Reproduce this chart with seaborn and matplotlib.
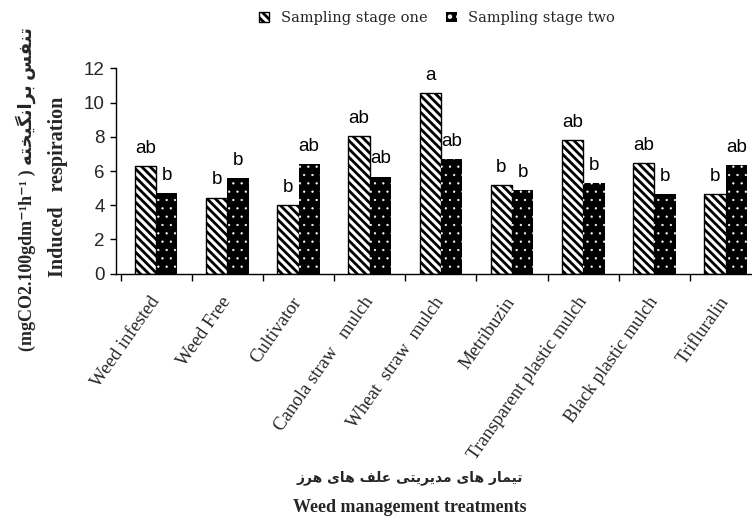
import numpy as np
import pandas as pd
import matplotlib
matplotlib.use("Agg")
import matplotlib.pyplot as plt
from matplotlib.ticker import FixedLocator
import seaborn as sns

# ---- data -------------------------------------------------------------
treatments = [
    "Weed infested", "Weed Free", "Cultivator", "Canola straw   mulch",
    "Wheat  straw  mulch", "Metribuzin", "Transparent plastic mulch",
    "Black plastic mulch", "Trifluralin",
]
stage_one = [6.3, 4.45, 4.0, 8.05, 10.55, 5.2, 7.8, 6.45, 4.65]
stage_two = [4.72, 5.57, 6.4, 5.67, 6.68, 4.9, 5.28, 4.66, 6.33]
letters_one = ["ab", "b", "b", "ab", "a", "b", "ab", "ab", "b"]
letters_two = ["b", "b", "ab", "ab", "ab", "b", "b", "b", "ab"]
series_names = ["Sampling stage one", "Sampling stage two"]
y_ticks = [0, 2, 4, 6, 8, 10, 12]


# ---- minimal Persian shaping (presentation forms, visual order) ------
FORMS = {
    "ا": ("\uFE8D", "\uFE8E", None, None),
    "ب": ("\uFE8F", "\uFE90", "\uFE91", "\uFE92"),
    "ت": ("\uFE95", "\uFE96", "\uFE97", "\uFE98"),
    "خ": ("\uFEA5", "\uFEA6", "\uFEA7", "\uFEA8"),
    "د": ("\uFEA9", "\uFEAA", None, None),
    "ر": ("\uFEAD", "\uFEAE", None, None),
    "ز": ("\uFEAF", "\uFEB0", None, None),
    "س": ("\uFEB1", "\uFEB2", "\uFEB3", "\uFEB4"),
    "ع": ("\uFEC9", "\uFECA", "\uFECB", "\uFECC"),
    "ف": ("\uFED1", "\uFED2", "\uFED3", "\uFED4"),
    "ل": ("\uFEDD", "\uFEDE", "\uFEDF", "\uFEE0"),
    "م": ("\uFEE1", "\uFEE2", "\uFEE3", "\uFEE4"),
    "ن": ("\uFEE5", "\uFEE6", "\uFEE7", "\uFEE8"),
    "ه": ("\uFEE9", "\uFEEA", "\uFEEB", "\uFEEC"),
    "گ": ("\uFB92", "\uFB93", "\uFB94", "\uFB95"),
    "ی": ("\uFBFC", "\uFBFD", "\uFBFE", "\uFBFF"),
}


def shape_persian(text):
    out = []
    for i, ch in enumerate(text):
        if ch not in FORMS:
            out.append(ch)
            continue
        prev = text[i - 1] if i > 0 else ""
        nxt = text[i + 1] if i + 1 < len(text) else ""
        join_prev = prev in FORMS and FORMS[prev][2] is not None
        join_next = nxt in FORMS and FORMS[ch][2] is not None
        iso, fin, ini, med = FORMS[ch]
        if join_prev and join_next:
            out.append(med)
        elif join_prev:
            out.append(fin)
        elif join_next:
            out.append(ini)
        else:
            out.append(iso)
    return "".join(reversed(out))


fa_ylabel = shape_persian("تنفس برانگیخته")
fa_xlabel = shape_persian("تیمار های مدیریتی علف های هرز")

# ---- style ------------------------------------------------------------
sns.set_theme(style="white")
plt.rcParams["font.family"] = ["Liberation Sans", "DejaVu Sans"]
plt.rcParams["hatch.linewidth"] = 2.0
plt.rcParams["axes.linewidth"] = 1.0

df = pd.DataFrame({
    "treatment": treatments * 2,
    "value": stage_one + stage_two,
    "stage": [series_names[0]] * len(treatments) + [series_names[1]] * len(treatments),
})

fig = plt.figure(figsize=(7.52, 5.21), dpi=100)
ax = fig.add_axes([0.1543, 0.4747, 0.8457, 0.394])

sns.barplot(
    data=df, x="treatment", y="value", hue="stage", order=treatments,
    hue_order=series_names, palette=["white", "black"], saturation=1,
    width=0.6, gap=0, edgecolor="black", linewidth=1.0, legend=False, ax=ax,
)

# stage one: white with dense black diagonal stripes
for p in ax.containers[0]:
    p.set_hatch("\\\\\\\\")
    p.set_edgecolor("black")
    if hasattr(p, "set_hatch_linewidth"):
        p.set_hatch_linewidth(2.0)
# stage two: black with a grid of small white dots
for p in ax.containers[1]:
    p.set_hatch("..")
    p.set_edgecolor("white")
    p.set_linewidth(0)
    if hasattr(p, "set_hatch_linewidth"):
        p.set_hatch_linewidth(0.4)

# significance letters above each bar
for cont, letters in zip(ax.containers, [letters_one, letters_two]):
    for p, lab in zip(cont, letters):
        ax.annotate(lab, (p.get_x() + p.get_width() / 2, p.get_height()),
                    xytext=(0, 9.5), textcoords="offset points",
                    ha="center", va="baseline", fontsize=13.5,
                    family="Liberation Sans", color="black")

# axes limits and spines
n = len(treatments)
ax.set_ylim(0, 12)
ax.set_xlim(-0.563, 8.37)
for side in ["top", "right"]:
    ax.spines[side].set_visible(False)
ax.spines["left"].set_color("black")
ax.spines["bottom"].set_color("black")

ax.set_yticks(y_ticks)
ax.set_yticklabels([str(v) for v in y_ticks], fontsize=13.5, family="Liberation Sans")
ax.tick_params(axis="y", direction="out", length=4, width=1, color="black", pad=4, left=True)

# tick marks on category boundaries, labels at category centres
ax.xaxis.set_major_locator(FixedLocator(np.arange(n + 1) - 0.5))
ax.xaxis.set_minor_locator(FixedLocator(np.arange(n)))
ax.set_xticklabels([""] * (n + 1))
ax.set_xticklabels(treatments, minor=True, rotation=55, ha="right", va="center",
                   rotation_mode="anchor", fontsize=13.5, family="Liberation Serif")
ax.tick_params(axis="x", which="major", direction="out", length=5, width=1,
               color="black", bottom=True)
ax.tick_params(axis="x", which="minor", length=0, pad=18)
ax.set_xlabel("")
ax.set_ylabel("")
ax.grid(False)

# axis titles
fam = ["Liberation Serif", "DejaVu Sans"]
fig.text(26 / 752, 1 - 189 / 521,
         "(mgCO2.100gdm\u207b\u00b9h\u207b\u00b9 ) " + fa_ylabel,
         rotation=90, ha="center", va="center", fontsize=13, weight="bold", family=fam)
fig.text(58 / 752, 1 - 187 / 521, "Induced   respiration",
         rotation=90, ha="center", va="center", fontsize=14.5, weight="bold", family=fam)
fig.text(410 / 752, 1 - 478 / 521, fa_xlabel,
         ha="center", va="center", fontsize=10, weight="bold", family=["DejaVu Sans"])
fig.text(410 / 752, 1 - 508 / 521, "Weed management treatments",
         ha="center", va="center", fontsize=13, weight="bold", family=fam)

# legend across the top
fig.legend([ax.containers[0][0], ax.containers[1][0]], series_names,
           loc="center", bbox_to_anchor=(437 / 752, 1 - 18 / 521), ncol=2,
           frameon=False, prop={"family": "DejaVu Serif", "size": 10.5},
           handlelength=0.7, handleheight=0.7, handletextpad=0.8, columnspacing=1.3)

fig.savefig("out.png", dpi=100, facecolor="white")
